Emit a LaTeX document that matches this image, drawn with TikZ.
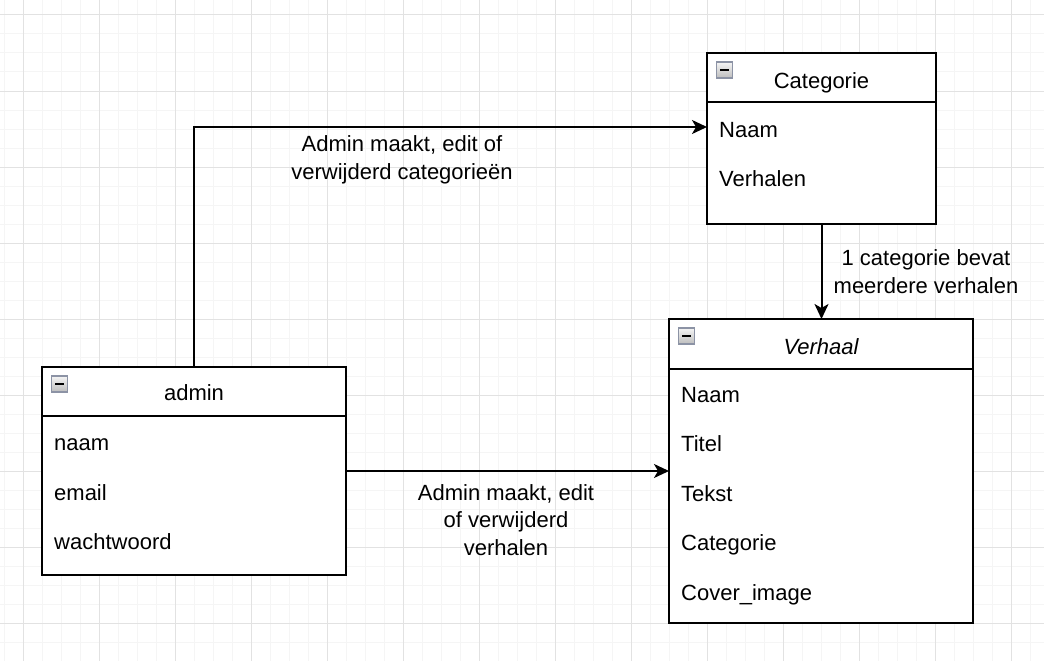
\documentclass[tikz,border=0pt]{standalone}
\usepackage{fontspec}
\setmainfont{Liberation Sans}
\usetikzlibrary{arrows.meta}
\definecolor{gridminor}{HTML}{F5F5F5}
\definecolor{gridmajor}{HTML}{E2E2E2}
\definecolor{iconborder}{HTML}{8C93A5}
\begin{document}
\begin{tikzpicture}[x=1pt,y=-1pt,
  every node/.style={font=\fontsize{22}{27.3}\selectfont},
  box/.style={draw=black, line width=2pt, fill=white, rectangle, inner sep=0pt, outer sep=0pt},
  divider/.style={draw=black, line width=2pt},
  icon/.style={rectangle, minimum size=16pt, inner sep=0pt, draw=iconborder, line width=1.2pt,
    top color=white!96!black, bottom color=white!74!black,
    path picture={\draw[black, line width=2pt] ([xshift=-4.5pt]path picture bounding box.center) -- ([xshift=4.5pt]path picture bounding box.center);}},
  ttl/.style={anchor=base, inner sep=0pt},
  txt/.style={anchor=base west, inner sep=0pt},
  lbl/.style={anchor=base, align=center, inner sep=0pt},
  edge/.style={draw=black, line width=2pt, -{Stealth[length=15pt,width=14pt,inset=4pt]}},
  gminor/.style={draw=gridminor, line width=1pt},
  gmajor/.style={draw=gridmajor, line width=1pt}]
\useasboundingbox (0,0) rectangle (1044,661);
\fill[white] (0,0) rectangle (1044,661);
% grid
\foreach \i in {0,...,54} \draw[gminor] ({4+19*\i},0) -- ({4+19*\i},661);
\foreach \i in {1,...,35} \draw[gminor] (0,{-4+19*\i}) -- (1044,{-4+19*\i});
\foreach \i in {0,...,13} \draw[gmajor] ({23+76*\i},0) -- ({23+76*\i},661);
\foreach \i in {0,...,8} \draw[gmajor] (0,{15+76*\i}) -- (1044,{15+76*\i});

% boxes
\node[box, minimum width=229pt, minimum height=171pt] (cat) at (821.5,138.5) {};
\node[box, minimum width=304pt, minimum height=208pt] (admin) at (194,471) {};
\node[box, minimum width=304pt, minimum height=304pt] (verh) at (821,471) {};

\draw[divider] ([yshift=-49pt]cat.north west) -- ([yshift=-49pt]cat.north east);
\draw[divider] ([yshift=-49pt]admin.north west) -- ([yshift=-49pt]admin.north east);
\draw[divider] ([yshift=-50pt]verh.north west) -- ([yshift=-50pt]verh.north east);

\node[icon] (caticon) at ([xshift=17.5pt,yshift=-17pt]cat.north west) {};
\node[icon] (adminicon) at ([xshift=17.5pt,yshift=-17pt]admin.north west) {};
\node[icon] (verhicon) at ([xshift=17.5pt,yshift=-17pt]verh.north west) {};

% titles
\node[ttl] (catt) at (821.5,88.3) {Categorie};
\node[ttl] (admint) at (194,400.7) {admin};
\node[ttl] (verht) at (821,354) {\itshape Verhaal};

% rows
\node[txt] (catr1) at (719,137.7) {Naam};
\node[txt] (catr2) at (719,186.7) {Verhalen};
\node[txt] (adr1) at (54,450) {naam};
\node[txt] (adr2) at (54,500) {email};
\node[txt] (adr3) at (54,549) {wachtwoord};
\node[txt] (vr1) at (681,402.7) {Naam};
\node[txt] (vr2) at (681,451.7) {Titel};
\node[txt] (vr3) at (681,501.7) {Tekst};
\node[txt] (vr4) at (681,550.7) {Categorie};
\node[txt] (vr5) at (681,600) {Cover\_image};

% connectors
\coordinate (catrow1) at (707,127);
\draw[edge] (admin.north) |- (catrow1);
\draw[edge] (admin.east) -- (verh.west);
\draw[edge] (cat.south) -- (cat.south |- verh.north);

% labels (anchor=base is the baseline of the last line)
\node[lbl] (l1) at (402,179) {Admin maakt, edit of\\verwijderd categorieën};
\node[lbl] (l2) at (506,555) {Admin maakt, edit\\of verwijderd\\verhalen};
\node[lbl] (l3) at (926,293) {1 categorie bevat\\meerdere verhalen};
\end{tikzpicture}
\end{document}
